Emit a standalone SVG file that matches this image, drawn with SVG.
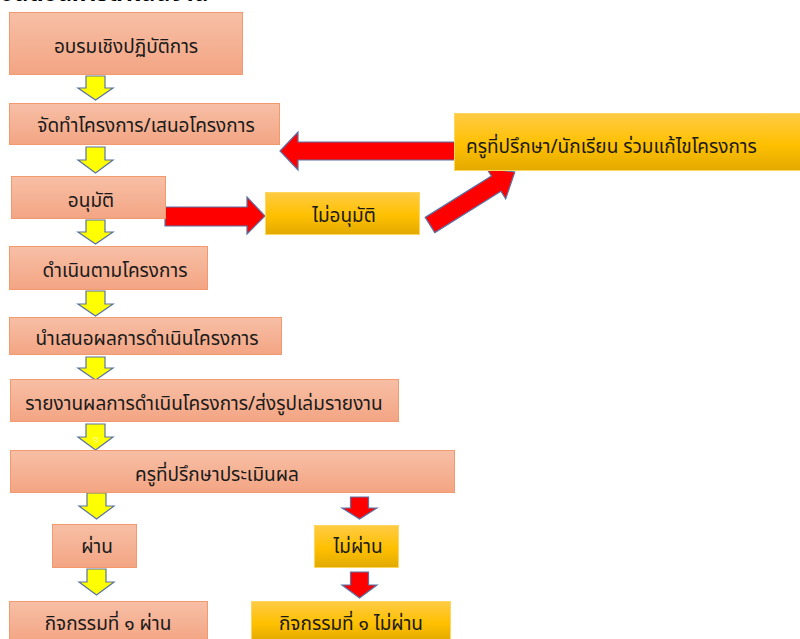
<svg xmlns="http://www.w3.org/2000/svg" width="800" height="639" viewBox="0 0 800 639">
<defs>
<linearGradient id="gs" x1="0" y1="0" x2="0" y2="1">
<stop offset="0" stop-color="#F7BFA6"/><stop offset="1" stop-color="#F3A583"/>
</linearGradient>
<linearGradient id="gg" x1="0" y1="0" x2="0" y2="1">
<stop offset="0" stop-color="#FFCB45"/><stop offset="0.55" stop-color="#FFC000"/><stop offset="1" stop-color="#E2AA00"/>
</linearGradient>
<path id="ya" d="M-9.5,0 H9.5 V12 H17.5 L0,24 L-17.5,12 H-9.5 Z"/>
</defs>
<style>
.s{fill:url(#gs);stroke:#F29A6E;stroke-width:1}
.g{fill:url(#gg);stroke:#FFD75E;stroke-width:1}
.y{fill:#FFFF00;stroke:#5A72A6;stroke-width:1.2}
.r{fill:#FF0000;stroke:#5A72A6;stroke-width:1.2}
text{font-family:"Noto Sans Thai","Tahoma","Noto Sans",sans-serif;font-size:19px;fill:#1a1a1a;text-anchor:middle}
</style>
<text x="0" y="1" style="font-weight:bold;font-size:23px;text-anchor:start;fill:#000">ขั้นตอนการดำเนินงาน</text>
<g id="connectors">
<use href="#ya" class="y" x="95.5" y="76"/>
<path class="y" d="M86,147 H105 V160 H113 L95.5,173 L78,160 H86 Z"/>
<path class="y" d="M86,220 H105 V232 H113 L95.5,244 L78,232 H86 Z"/>
<path class="y" d="M86,291 H105 V304 H113 L95.5,316 L78,304 H86 Z"/>
<path class="y" d="M86,357 H105 V368 H113 L95.5,380 L78,368 H86 Z"/>
<path class="y" d="M86,424 H105 V437 H113 L95.5,450 L78,437 H86 Z"/>
<text x="96" y="443" style="font-size:12px;fill:#fff;opacity:0.55">๑</text>
<path class="y" d="M87,493 H106 V506 H114 L96.5,519 L79,506 H87 Z"/>
<path class="y" d="M87,569 H106 V582 H114 L96.5,595 L79,582 H87 Z"/>
<path class="r" d="M350.5,497 H368.5 V508 H377 L359.5,519 L342,508 H350.5 Z"/>
<path class="r" d="M350.5,572 H368.5 V585 H377 L359.5,598 L342,585 H350.5 Z"/>
<path class="r" d="M165,207 H247 V197 L265,216 L247,234 V226 H165 Z"/>
<path class="r" d="M456,142 H298 V132 L280,151 L298,170 V160 H456 Z"/>
<path class="r" transform="translate(430,225) rotate(-32)" d="M0,-9 H78 V-18 L100,0 L78,18 V9 H0 Z"/>
</g>
<g id="n1"><rect class="s" x="9.5" y="12.5" width="233" height="62"/><text x="126" y="53">อบรมเชิงปฏิบัติการ</text></g>
<g id="n2"><rect class="s" x="9.5" y="103.5" width="270" height="41"/><text x="146" y="132">จัดทำโครงการ/เสนอโครงการ</text></g>
<g id="n3"><rect class="s" x="11.5" y="176.5" width="154" height="42"/><text x="91" y="207">อนุมัติ</text></g>
<g id="n4"><rect class="s" x="9.5" y="246.5" width="198" height="43"/><text x="115" y="277">ดำเนินตามโครงการ</text></g>
<g id="n5"><rect class="s" x="9.5" y="317.5" width="272" height="37"/><text x="147" y="345">นำเสนอผลการดำเนินโครงการ</text></g>
<g id="n6"><rect class="s" x="10.5" y="379.5" width="388" height="42"/><text x="204" y="410">รายงานผลการดำเนินโครงการ/ส่งรูปเล่มรายงาน</text></g>
<g id="n7"><rect class="s" x="10.5" y="450.5" width="444" height="42"/><text x="217" y="481">ครูที่ปรึกษาประเมินผล</text></g>
<g id="n8"><rect class="s" x="52.5" y="524.5" width="84" height="43"/><text x="97" y="553">ผ่าน</text></g>
<g id="n9"><rect class="s" x="9.5" y="601.5" width="198" height="40"/><text x="108" y="630">กิจกรรมที่ ๑ ผ่าน</text></g>
<g id="n10"><rect class="g" x="314.5" y="525.5" width="84" height="42"/><text x="358" y="553">ไม่ผ่าน</text></g>
<g id="n11"><rect class="g" x="251.5" y="601.5" width="199" height="40"/><text x="351" y="630">กิจกรรมที่ ๑ ไม่ผ่าน</text></g>
<g id="n12"><rect class="g" x="265.5" y="192.5" width="154" height="42"/><text x="344" y="222">ไม่อนุมัติ</text></g>
<g id="n13"><rect class="g" x="454.5" y="113.5" width="347" height="57"/><text x="466" y="153" style="text-anchor:start">ครูที่ปรึกษา/นักเรียน ร่วมแก้ไขโครงการ</text></g>
</svg>
